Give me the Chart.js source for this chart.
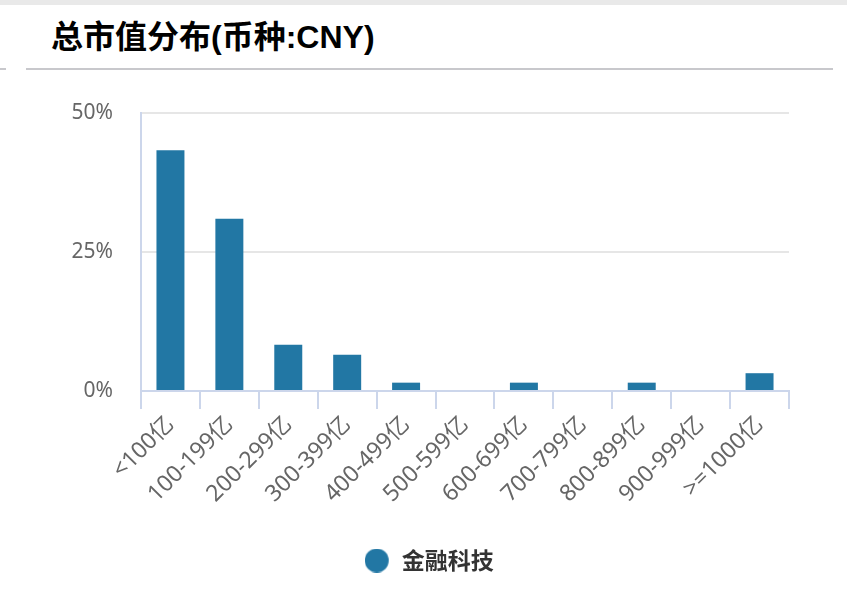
<!DOCTYPE html>
<html>
<head>
<meta charset="utf-8">
<script src="https://cdn.jsdelivr.net/npm/chart.js@4"></script>
<style>
  html, body { margin: 0; padding: 0; background: #fff; }
  body { width: 847px; height: 591px; position: relative; overflow: hidden; }
  .top-strip { position: absolute; left: 0; top: 0; width: 847px; height: 5px; background: #e9e9e9; }
  .title {
    position: absolute; left: 51px; top: 17px;
    font: bold 32px "Liberation Sans", "Noto Sans CJK SC", sans-serif;
    color: #000; white-space: nowrap; line-height: 40px;
  }
  .rule { position: absolute; top: 68px; height: 2px; background: #c8c8cc; }
  #wrap { position: absolute; left: 0; top: 0; width: 847px; height: 591px; }
</style>
</head>
<body>
<div class="top-strip"></div>
<div class="title">总市值分布(币种:CNY)</div>
<div class="rule" style="left:0;width:6px"></div>
<div class="rule" style="left:26px;width:807px"></div>
<div id="wrap"><canvas id="capChart"></canvas></div>
<script>
// data
const categories = ['<100亿', '100-199亿', '200-299亿', '300-399亿', '400-499亿', '500-599亿',
    '600-699亿', '700-799亿', '800-899亿', '900-999亿', '>=1000亿'];
const shares = [43.3, 31.0, 8.3, 6.5, 1.5, 0, 1.5, 0, 1.5, 0, 3.2];
const seriesName = '金融科技';
const yTicks = [0, 25, 50];

const barBlue = '#2277a4';
const axisBlue = '#ccd6eb';
const labelFont = { family: '"Noto Sans", "Noto Sans CJK SC", sans-serif', size: 21 };

// legend marker: circle on the left of a wider box, to leave a gap before the text
const marker = document.createElement('canvas');
marker.width = 28;
marker.height = 24;
const mctx = marker.getContext('2d');
mctx.fillStyle = barBlue;
mctx.beginPath();
mctx.arc(12, 12, 12, 0, Math.PI * 2);
mctx.fill();

const ctx = document.getElementById('capChart').getContext('2d');
new Chart(ctx, {
    type: 'bar',
    data: {
        labels: categories,
        datasets: [{
            label: seriesName,
            data: shares,
            backgroundColor: barBlue,
            borderWidth: 0,
            categoryPercentage: 1,
            barPercentage: 0.475
        }]
    },
    options: {
        responsive: true,
        maintainAspectRatio: false,
        animation: false,
        layout: { padding: { top: 113, right: 0, bottom: 9, left: 14 } },
        plugins: {
            tooltip: { enabled: false },
            legend: {
                position: 'bottom',
                labels: {
                    usePointStyle: true,
                    pointStyle: marker,
                    boxWidth: 28,
                    boxHeight: 23,
                    padding: 10,
                    color: '#333',
                    font: { family: '"Noto Sans CJK SC", sans-serif', size: 23, weight: 'bold' }
                }
            }
        },
        scales: {
            x: {
                grid: { drawOnChartArea: false, color: axisBlue, lineWidth: 2, tickLength: 18, offset: true },
                border: { color: axisBlue, width: 2 },
                ticks: { color: '#666', font: { ...labelFont, size: 23 }, maxRotation: 45, minRotation: 45, autoSkip: false, padding: 2 },
                afterFit: (scale) => { scale.height = 148; }
            },
            y: {
                min: 0,
                max: 50,
                afterBuildTicks: (scale) => { scale.ticks = yTicks.map(v => ({ value: v })); },
                grid: { color: '#e6e6e6', lineWidth: 2, drawTicks: false },
                border: { color: axisBlue, width: 2 },
                ticks: { color: '#666', font: labelFont, padding: 28, callback: v => v + '%' },
                afterFit: (scale) => { scale.width = 127; }
            },
            // empty right-hand axis, only to keep the plot clear of the right edge
            spacer: {
                type: 'linear',
                position: 'right',
                display: true,
                grid: { display: false, drawOnChartArea: false },
                border: { display: false },
                ticks: { display: false },
                afterFit: (scale) => { scale.width = 58; }
            }
        }
    }
});
</script>
</body>
</html>
